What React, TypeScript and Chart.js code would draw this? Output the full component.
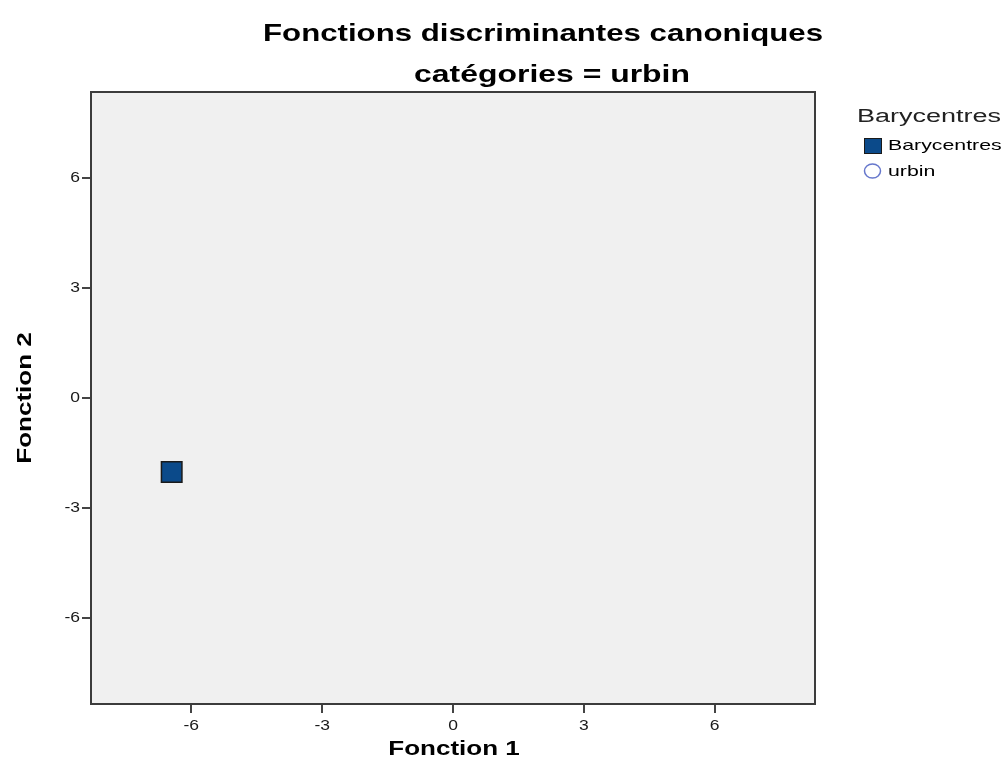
import React, { useEffect, useRef } from "react";
import { Chart, registerables } from "chart.js";

Chart.register(...registerables);

const titleText = "Fonctions discriminantes canoniques";
const subtitleText = "catégories = urbin";
const xAxisTitle = "Fonction 1";
const yAxisTitle = "Fonction 2";
const legendTitle = "Barycentres";
const seriesNames = ["Barycentres", "urbin"];
const tickValues = [-6, -3, 0, 3, 6];
const centroidX = [-6.45];
const centroidY = [-2.02];
const urbinX: number[] = [];
const urbinY: number[] = [];

const FONT = "'Liberation Sans', Arial, sans-serif";
const TICK_STRETCH = 1.25;

// draws text at (x, cy) horizontally stretched; align: "left" | "center" | "right"
function drawStretched(ctx: CanvasRenderingContext2D, text: string, x: number, cy: number, font: string, sx: number, align = "center") {
  ctx.save();
  ctx.font = font;
  ctx.textBaseline = "middle";
  ctx.textAlign = "left";
  const w = ctx.measureText(text).width * sx;
  const left = align === "center" ? x - w / 2 : align === "right" ? x - w : x;
  ctx.translate(left, cy);
  ctx.scale(sx, 1);
  ctx.fillText(text, 0, 0);
  ctx.restore();
}

const decorPlugin = {
  id: "decor",
  beforeDraw(chart: any) {
    const { ctx, chartArea } = chart;
    ctx.save();
    ctx.fillStyle = "#ffffff";
    ctx.fillRect(0, 0, chart.width, chart.height);
    ctx.fillStyle = "#f0f0f0";
    ctx.fillRect(chartArea.left, chartArea.top, chartArea.right - chartArea.left, chartArea.bottom - chartArea.top);
    ctx.restore();
  },
  afterDraw(chart: any) {
    const { ctx, chartArea, scales } = chart;
    const { left, right, top, bottom } = chartArea;
    ctx.save();
    // frame
    ctx.strokeStyle = "#3c3c3c";
    ctx.lineWidth = 2;
    ctx.strokeRect(left, top, right - left, bottom - top);
    // tick labels (positions from the chart scales)
    ctx.fillStyle = "#1a1a1a";
    tickValues.forEach((v) => {
      drawStretched(ctx, String(v), scales.x.getPixelForValue(v), 726, `14px ${FONT}`, TICK_STRETCH, "center");
      drawStretched(ctx, String(v), 80, scales.y.getPixelForValue(v), `14px ${FONT}`, TICK_STRETCH, "right");
    });
    // titles
    ctx.fillStyle = "#000";
    drawStretched(ctx, titleText, 543, 34, `bold 24px ${FONT}`, 1.3);
    drawStretched(ctx, subtitleText, 552, 75, `bold 24px ${FONT}`, 1.33);
    drawStretched(ctx, xAxisTitle, 454, 749, `bold 20px ${FONT}`, 1.3);
    ctx.save();
    ctx.translate(25, 398);
    ctx.rotate(-Math.PI / 2);
    drawStretched(ctx, yAxisTitle, 0, 0, `bold 20px ${FONT}`, 1.3);
    ctx.restore();
    // legend
    ctx.fillStyle = "#222";
    drawStretched(ctx, legendTitle, 1001, 117, `18px ${FONT}`, 1.5, "right");
    ctx.fillStyle = "#0b4a8a";
    ctx.fillRect(864, 138, 18, 16);
    ctx.strokeStyle = "#1a1a1a";
    ctx.lineWidth = 1;
    ctx.strokeRect(864.5, 138.5, 17, 15);
    ctx.beginPath();
    ctx.strokeStyle = "#6677cc";
    ctx.lineWidth = 1.5;
    ctx.ellipse(872.5, 171, 8, 7, 0, 0, Math.PI * 2);
    ctx.stroke();
    ctx.fillStyle = "#000";
    drawStretched(ctx, seriesNames[0], 888, 146, `15px ${FONT}`, 1.42, "left");
    drawStretched(ctx, seriesNames[1], 888, 172, `15px ${FONT}`, 1.42, "left");
    ctx.restore();
  },
};

export default function App() {
  const ref = useRef<HTMLCanvasElement>(null);
  useEffect(() => {
    if (!ref.current) return;
    const chart = new Chart(ref.current, {
      type: "scatter",
      data: {
        datasets: [
          {
            label: seriesNames[0],
            data: centroidX.map((x, i) => ({ x, y: centroidY[i] })),
            pointStyle: "rect",
            pointRadius: 14.5,
            backgroundColor: "#0b4a8a",
            borderColor: "#1a1a1a",
            borderWidth: 1.5,
          },
          {
            label: seriesNames[1],
            data: urbinX.map((x, i) => ({ x, y: urbinY[i] })),
            pointStyle: "circle",
            pointRadius: 7,
            backgroundColor: "rgba(0,0,0,0)",
            borderColor: "#6677cc",
          },
        ],
      },
      options: {
        responsive: false,
        animation: false,
        layout: { padding: { left: 0, top: 92, right: 192, bottom: 0 } },
        plugins: { legend: { display: false }, title: { display: false }, tooltip: { enabled: false } },
        scales: {
          x: {
            type: "linear",
            min: -8.3,
            max: 8.3,
            afterBuildTicks: (s: any) => {
              s.ticks = tickValues.map((v) => ({ value: v }));
            },
            afterFit: (s: any) => {
              s.height = 76;
            },
            grid: { drawOnChartArea: false, drawTicks: true, tickLength: 9, color: "#444", lineWidth: 2 },
            border: { display: false },
            ticks: { display: false },
          },
          y: {
            type: "linear",
            min: -8.35,
            max: 8.35,
            afterBuildTicks: (s: any) => {
              s.ticks = tickValues.map((v) => ({ value: v }));
            },
            afterFit: (s: any) => {
              s.width = 91;
            },
            grid: { drawOnChartArea: false, drawTicks: true, tickLength: 9, color: "#444", lineWidth: 2 },
            border: { display: false },
            ticks: { display: false },
          },
        },
      },
      plugins: [decorPlugin],
    });
    return () => chart.destroy();
  }, []);
  return (
    <div style={{ position: "fixed", left: 0, top: 0, width: 1007, height: 780, background: "#fff" }}>
      <canvas ref={ref} width={1007} height={780} style={{ display: "block" }} />
    </div>
  );
}
